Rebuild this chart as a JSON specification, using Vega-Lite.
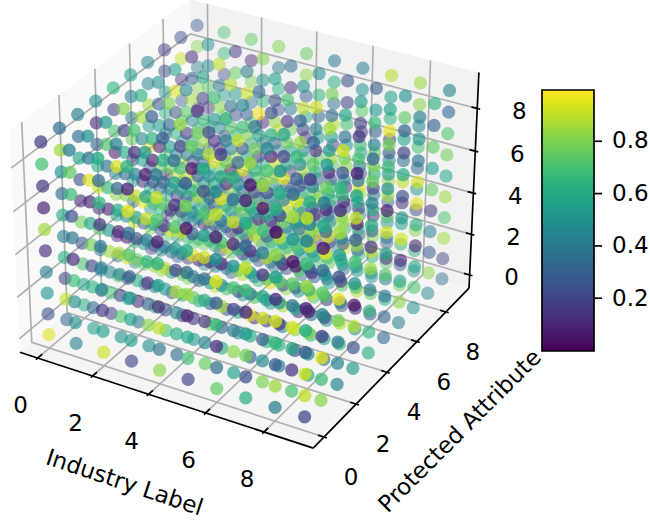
{"$schema":"https://vega.github.io/schema/vega-lite/v6.json","width":650,"height":525,"padding":0,"autosize":"none","background":"white","config":{"view":{"stroke":null},"text":{"font":"DejaVu Sans","fontSize":23,"color":"black"}},
"data":{"values":[
{"k":"pane","i":"l","o":0,"x":-0.656,"y":-0.656,"z":-0.656},{"k":"pane","i":"l","o":1,"x":-0.656,"y":9.656,"z":-0.656},{"k":"pane","i":"l","o":2,"x":-0.656,"y":9.656,"z":9.656},{"k":"pane","i":"l","o":3,"x":-0.656,"y":-0.656,"z":9.656},
{"k":"pane","i":"b","o":0,"x":-0.656,"y":9.656,"z":-0.656},{"k":"pane","i":"b","o":1,"x":9.656,"y":9.656,"z":-0.656},{"k":"pane","i":"b","o":2,"x":9.656,"y":9.656,"z":9.656},{"k":"pane","i":"b","o":3,"x":-0.656,"y":9.656,"z":9.656},
{"k":"pane","i":"f","o":0,"x":-0.656,"y":-0.656,"z":-0.656},{"k":"pane","i":"f","o":1,"x":9.656,"y":-0.656,"z":-0.656},{"k":"pane","i":"f","o":2,"x":9.656,"y":9.656,"z":-0.656},{"k":"pane","i":"f","o":3,"x":-0.656,"y":9.656,"z":-0.656},
{"k":"g","i":"x0","o":0,"x":0,"y":-0.656,"z":-0.656},{"k":"g","i":"x0","o":1,"x":0,"y":9.656,"z":-0.656},{"k":"g","i":"x0","o":2,"x":0,"y":9.656,"z":9.656},
{"k":"g","i":"x2","o":0,"x":2,"y":-0.656,"z":-0.656},{"k":"g","i":"x2","o":1,"x":2,"y":9.656,"z":-0.656},{"k":"g","i":"x2","o":2,"x":2,"y":9.656,"z":9.656},
{"k":"g","i":"x4","o":0,"x":4,"y":-0.656,"z":-0.656},{"k":"g","i":"x4","o":1,"x":4,"y":9.656,"z":-0.656},{"k":"g","i":"x4","o":2,"x":4,"y":9.656,"z":9.656},
{"k":"g","i":"x6","o":0,"x":6,"y":-0.656,"z":-0.656},{"k":"g","i":"x6","o":1,"x":6,"y":9.656,"z":-0.656},{"k":"g","i":"x6","o":2,"x":6,"y":9.656,"z":9.656},
{"k":"g","i":"x8","o":0,"x":8,"y":-0.656,"z":-0.656},{"k":"g","i":"x8","o":1,"x":8,"y":9.656,"z":-0.656},{"k":"g","i":"x8","o":2,"x":8,"y":9.656,"z":9.656},
{"k":"g","i":"y0","o":0,"x":9.656,"y":0,"z":-0.656},{"k":"g","i":"y0","o":1,"x":-0.656,"y":0,"z":-0.656},{"k":"g","i":"y0","o":2,"x":-0.656,"y":0,"z":9.656},
{"k":"g","i":"y2","o":0,"x":9.656,"y":2,"z":-0.656},{"k":"g","i":"y2","o":1,"x":-0.656,"y":2,"z":-0.656},{"k":"g","i":"y2","o":2,"x":-0.656,"y":2,"z":9.656},
{"k":"g","i":"y4","o":0,"x":9.656,"y":4,"z":-0.656},{"k":"g","i":"y4","o":1,"x":-0.656,"y":4,"z":-0.656},{"k":"g","i":"y4","o":2,"x":-0.656,"y":4,"z":9.656},
{"k":"g","i":"y6","o":0,"x":9.656,"y":6,"z":-0.656},{"k":"g","i":"y6","o":1,"x":-0.656,"y":6,"z":-0.656},{"k":"g","i":"y6","o":2,"x":-0.656,"y":6,"z":9.656},
{"k":"g","i":"y8","o":0,"x":9.656,"y":8,"z":-0.656},{"k":"g","i":"y8","o":1,"x":-0.656,"y":8,"z":-0.656},{"k":"g","i":"y8","o":2,"x":-0.656,"y":8,"z":9.656},
{"k":"g","i":"z0","o":0,"x":-0.656,"y":-0.656,"z":0},{"k":"g","i":"z0","o":1,"x":-0.656,"y":9.656,"z":0},{"k":"g","i":"z0","o":2,"x":9.656,"y":9.656,"z":0},
{"k":"g","i":"z2","o":0,"x":-0.656,"y":-0.656,"z":2},{"k":"g","i":"z2","o":1,"x":-0.656,"y":9.656,"z":2},{"k":"g","i":"z2","o":2,"x":9.656,"y":9.656,"z":2},
{"k":"g","i":"z4","o":0,"x":-0.656,"y":-0.656,"z":4},{"k":"g","i":"z4","o":1,"x":-0.656,"y":9.656,"z":4},{"k":"g","i":"z4","o":2,"x":9.656,"y":9.656,"z":4},
{"k":"g","i":"z6","o":0,"x":-0.656,"y":-0.656,"z":6},{"k":"g","i":"z6","o":1,"x":-0.656,"y":9.656,"z":6},{"k":"g","i":"z6","o":2,"x":9.656,"y":9.656,"z":6},
{"k":"g","i":"z8","o":0,"x":-0.656,"y":-0.656,"z":8},{"k":"g","i":"z8","o":1,"x":-0.656,"y":9.656,"z":8},{"k":"g","i":"z8","o":2,"x":9.656,"y":9.656,"z":8},
{"k":"a","i":"x","o":0,"x":-0.656,"y":-0.656,"z":-0.656},{"k":"a","i":"x","o":1,"x":9.656,"y":-0.656,"z":-0.656},
{"k":"a","i":"y","o":0,"x":9.656,"y":-0.656,"z":-0.656},{"k":"a","i":"y","o":1,"x":9.656,"y":9.656,"z":-0.656},
{"k":"a","i":"z","o":0,"x":9.656,"y":9.656,"z":-0.656},{"k":"a","i":"z","o":1,"x":9.656,"y":9.656,"z":9.656},
{"k":"a","i":"tx0","o":0,"x":0,"y":-0.756,"z":-0.656},{"k":"a","i":"tx0","o":1,"x":0,"y":-0.406,"z":-0.656},
{"k":"a","i":"tx2","o":0,"x":2,"y":-0.756,"z":-0.656},{"k":"a","i":"tx2","o":1,"x":2,"y":-0.406,"z":-0.656},
{"k":"a","i":"tx4","o":0,"x":4,"y":-0.756,"z":-0.656},{"k":"a","i":"tx4","o":1,"x":4,"y":-0.406,"z":-0.656},
{"k":"a","i":"tx6","o":0,"x":6,"y":-0.756,"z":-0.656},{"k":"a","i":"tx6","o":1,"x":6,"y":-0.406,"z":-0.656},
{"k":"a","i":"tx8","o":0,"x":8,"y":-0.756,"z":-0.656},{"k":"a","i":"tx8","o":1,"x":8,"y":-0.406,"z":-0.656},
{"k":"a","i":"ty0","o":0,"x":9.456,"y":0,"z":-0.656},{"k":"a","i":"ty0","o":1,"x":9.756,"y":0,"z":-0.656},
{"k":"a","i":"ty2","o":0,"x":9.456,"y":2,"z":-0.656},{"k":"a","i":"ty2","o":1,"x":9.756,"y":2,"z":-0.656},
{"k":"a","i":"ty4","o":0,"x":9.456,"y":4,"z":-0.656},{"k":"a","i":"ty4","o":1,"x":9.756,"y":4,"z":-0.656},
{"k":"a","i":"ty6","o":0,"x":9.456,"y":6,"z":-0.656},{"k":"a","i":"ty6","o":1,"x":9.756,"y":6,"z":-0.656},
{"k":"a","i":"ty8","o":0,"x":9.456,"y":8,"z":-0.656},{"k":"a","i":"ty8","o":1,"x":9.756,"y":8,"z":-0.656},
{"k":"a","i":"tz0","o":0,"x":9.456,"y":9.656,"z":0},{"k":"a","i":"tz0","o":1,"x":9.756,"y":9.656,"z":0},
{"k":"a","i":"tz2","o":0,"x":9.456,"y":9.656,"z":2},{"k":"a","i":"tz2","o":1,"x":9.756,"y":9.656,"z":2},
{"k":"a","i":"tz4","o":0,"x":9.456,"y":9.656,"z":4},{"k":"a","i":"tz4","o":1,"x":9.756,"y":9.656,"z":4},
{"k":"a","i":"tz6","o":0,"x":9.456,"y":9.656,"z":6},{"k":"a","i":"tz6","o":1,"x":9.756,"y":9.656,"z":6},
{"k":"a","i":"tz8","o":0,"x":9.456,"y":9.656,"z":8},{"k":"a","i":"tz8","o":1,"x":9.756,"y":9.656,"z":8},
{"k":"xl","t":"0","x":0,"y":-0.656,"z":-0.656},{"k":"xl","t":"2","x":2,"y":-0.656,"z":-0.656},{"k":"xl","t":"4","x":4,"y":-0.656,"z":-0.656},{"k":"xl","t":"6","x":6,"y":-0.656,"z":-0.656},{"k":"xl","t":"8","x":8,"y":-0.656,"z":-0.656},
{"k":"yl","t":"0","x":9.656,"y":0,"z":-0.656},{"k":"yl","t":"2","x":9.656,"y":2,"z":-0.656},{"k":"yl","t":"4","x":9.656,"y":4,"z":-0.656},{"k":"yl","t":"6","x":9.656,"y":6,"z":-0.656},{"k":"yl","t":"8","x":9.656,"y":8,"z":-0.656},
{"k":"zl","t":"0","x":9.656,"y":9.656,"z":0},{"k":"zl","t":"2","x":9.656,"y":9.656,"z":2},{"k":"zl","t":"4","x":9.656,"y":9.656,"z":4},{"k":"zl","t":"6","x":9.656,"y":9.656,"z":6},{"k":"zl","t":"8","x":9.656,"y":9.656,"z":8},
{"k":"tx","t":"Industry Label","x":3.05,"y":-0.656,"z":-5.46},
{"k":"ty","t":"Protected Attribute","x":9.656,"y":9.47,"z":-7.88},
{"k":"c","cb":0.2},{"k":"c","cb":0.4},{"k":"c","cb":0.6},{"k":"c","cb":0.8},
{"x":0,"y":0,"z":0,"v":0.95},{"x":0,"y":0,"z":1,"v":0.25},{"x":0,"y":0,"z":2,"v":0.5},{"x":0,"y":0,"z":3,"v":0.42},{"x":0,"y":0,"z":4,"v":0.12},{"x":0,"y":0,"z":5,"v":0.85},{"x":0,"y":0,"z":6,"v":0.08},{"x":0,"y":0,"z":7,"v":0.15},{"x":0,"y":0,"z":8,"v":0.7},{"x":0,"y":0,"z":9,"v":0.18},
{"x":0,"y":1,"z":0,"v":0.3},{"x":0,"y":1,"z":1,"v":0.9},{"x":0,"y":1,"z":2,"v":0.2},{"x":0,"y":1,"z":3,"v":0.62},{"x":0,"y":1,"z":4,"v":0.42},{"x":0,"y":1,"z":5,"v":0.6},{"x":0,"y":1,"z":6,"v":0.35},{"x":0,"y":1,"z":7,"v":0.5},{"x":0,"y":1,"z":8,"v":0.85},{"x":0,"y":1,"z":9,"v":0.35},
{"x":0,"y":2,"z":0,"v":0.62},{"x":0,"y":2,"z":1,"v":0.55},{"x":0,"y":2,"z":2,"v":0.7},{"x":0,"y":2,"z":3,"v":0.25},{"x":0,"y":2,"z":4,"v":0.78},{"x":0,"y":2,"z":5,"v":0.12},{"x":0,"y":2,"z":6,"v":0.22},{"x":0,"y":2,"z":7,"v":0.58},{"x":0,"y":2,"z":8,"v":0.35},{"x":0,"y":2,"z":9,"v":0.42},
{"x":0,"y":3,"z":0,"v":0.2},{"x":0,"y":3,"z":1,"v":0.5},{"x":0,"y":3,"z":2,"v":0.4},{"x":0,"y":3,"z":3,"v":0.72},{"x":0,"y":3,"z":4,"v":0.15},{"x":0,"y":3,"z":5,"v":0.92},{"x":0,"y":3,"z":6,"v":0.62},{"x":0,"y":3,"z":7,"v":0.3},{"x":0,"y":3,"z":8,"v":0.12},{"x":0,"y":3,"z":9,"v":0.5},
{"x":0,"y":4,"z":0,"v":0.75},{"x":0,"y":4,"z":1,"v":0.38},{"x":0,"y":4,"z":2,"v":0.12},{"x":0,"y":4,"z":3,"v":0.55},{"x":0,"y":4,"z":4,"v":0.82},{"x":0,"y":4,"z":5,"v":0.45},{"x":0,"y":4,"z":6,"v":0.05},{"x":0,"y":4,"z":7,"v":0.7},{"x":0,"y":4,"z":8,"v":0.2},{"x":0,"y":4,"z":9,"v":0.65},
{"x":0,"y":5,"z":0,"v":0.45},{"x":0,"y":5,"z":1,"v":0.66},{"x":0,"y":5,"z":2,"v":0.9},{"x":0,"y":5,"z":3,"v":0.33},{"x":0,"y":5,"z":4,"v":0.58},{"x":0,"y":5,"z":5,"v":0.18},{"x":0,"y":5,"z":6,"v":0.75},{"x":0,"y":5,"z":7,"v":0.4},{"x":0,"y":5,"z":8,"v":0.42},{"x":0,"y":5,"z":9,"v":0.55},
{"x":0,"y":6,"z":0,"v":0.1},{"x":0,"y":6,"z":1,"v":0.8},{"x":0,"y":6,"z":2,"v":0.47},{"x":0,"y":6,"z":3,"v":0.6},{"x":0,"y":6,"z":4,"v":0.28},{"x":0,"y":6,"z":5,"v":0.95},{"x":0,"y":6,"z":6,"v":0.52},{"x":0,"y":6,"z":7,"v":0.85},{"x":0,"y":6,"z":8,"v":0.42},{"x":0,"y":6,"z":9,"v":0.45},
{"x":0,"y":7,"z":0,"v":0.68},{"x":0,"y":7,"z":1,"v":0.22},{"x":0,"y":7,"z":2,"v":0.56},{"x":0,"y":7,"z":3,"v":0.08},{"x":0,"y":7,"z":4,"v":0.72},{"x":0,"y":7,"z":5,"v":0.36},{"x":0,"y":7,"z":6,"v":0.64},{"x":0,"y":7,"z":7,"v":0.52},{"x":0,"y":7,"z":8,"v":0.2},{"x":0,"y":7,"z":9,"v":0.18},
{"x":0,"y":8,"z":0,"v":0.34},{"x":0,"y":8,"z":1,"v":0.6},{"x":0,"y":8,"z":2,"v":0.15},{"x":0,"y":8,"z":3,"v":0.88},{"x":0,"y":8,"z":4,"v":0.48},{"x":0,"y":8,"z":5,"v":0.7},{"x":0,"y":8,"z":6,"v":0.26},{"x":0,"y":8,"z":7,"v":0.12},{"x":0,"y":8,"z":8,"v":0.9},{"x":0,"y":8,"z":9,"v":0.22},
{"x":0,"y":9,"z":0,"v":0.52},{"x":0,"y":9,"z":1,"v":0.76},{"x":0,"y":9,"z":2,"v":0.3},{"x":0,"y":9,"z":3,"v":0.44},{"x":0,"y":9,"z":4,"v":0.62},{"x":0,"y":9,"z":5,"v":0.16},{"x":0,"y":9,"z":6,"v":0.82},{"x":0,"y":9,"z":7,"v":0.4},{"x":0,"y":9,"z":8,"v":0.82},{"x":0,"y":9,"z":9,"v":0.28},
{"x":1,"y":0,"z":0,"v":0.42},{"x":1,"y":0,"z":1,"v":0.5},{"x":1,"y":0,"z":2,"v":0.47},{"x":1,"y":0,"z":3,"v":0.68},{"x":1,"y":0,"z":4,"v":0.1},{"x":1,"y":0,"z":5,"v":0.38},{"x":1,"y":0,"z":6,"v":0.25},{"x":1,"y":0,"z":7,"v":0.68},{"x":1,"y":0,"z":8,"v":0.75},{"x":1,"y":0,"z":9,"v":0.42},
{"x":1,"y":1,"z":0,"v":0.55},{"x":1,"y":1,"z":1,"v":0.32},{"x":1,"y":1,"z":2,"v":0.62},{"x":1,"y":1,"z":3,"v":0.2},{"x":1,"y":1,"z":4,"v":0.78},{"x":1,"y":1,"z":5,"v":0.58},{"x":1,"y":1,"z":6,"v":0.12},{"x":1,"y":1,"z":7,"v":0.95},{"x":1,"y":1,"z":8,"v":0.4},{"x":1,"y":1,"z":9,"v":0.48},
{"x":1,"y":2,"z":0,"v":0.16},{"x":1,"y":2,"z":1,"v":0.7},{"x":1,"y":2,"z":2,"v":0.44},{"x":1,"y":2,"z":3,"v":0.85},{"x":1,"y":2,"z":4,"v":0.52},{"x":1,"y":2,"z":5,"v":0.1},{"x":1,"y":2,"z":6,"v":0.66},{"x":1,"y":2,"z":7,"v":0.36},{"x":1,"y":2,"z":8,"v":0.72},{"x":1,"y":2,"z":9,"v":0.52},
{"x":1,"y":3,"z":0,"v":0.62},{"x":1,"y":3,"z":1,"v":0.24},{"x":1,"y":3,"z":2,"v":0.92},{"x":1,"y":3,"z":3,"v":0.06},{"x":1,"y":3,"z":4,"v":0.48},{"x":1,"y":3,"z":5,"v":0.8},{"x":1,"y":3,"z":6,"v":0.34},{"x":1,"y":3,"z":7,"v":0.6},{"x":1,"y":3,"z":8,"v":0.18},{"x":1,"y":3,"z":9,"v":0.8},
{"x":1,"y":4,"z":0,"v":0.38},{"x":1,"y":4,"z":1,"v":0.74},{"x":1,"y":4,"z":2,"v":0.5},{"x":1,"y":4,"z":3,"v":0.28},{"x":1,"y":4,"z":4,"v":0.96},{"x":1,"y":4,"z":5,"v":0.14},{"x":1,"y":4,"z":6,"v":0.56},{"x":1,"y":4,"z":7,"v":0.42},{"x":1,"y":4,"z":8,"v":0.85},{"x":1,"y":4,"z":9,"v":0.62},
{"x":1,"y":5,"z":0,"v":0.84},{"x":1,"y":5,"z":1,"v":0.46},{"x":1,"y":5,"z":2,"v":0.2},{"x":1,"y":5,"z":3,"v":0.66},{"x":1,"y":5,"z":4,"v":0.32},{"x":1,"y":5,"z":5,"v":0.76},{"x":1,"y":5,"z":6,"v":0.04},{"x":1,"y":5,"z":7,"v":0.54},{"x":1,"y":5,"z":8,"v":0.3},{"x":1,"y":5,"z":9,"v":0.5},
{"x":1,"y":6,"z":0,"v":0.26},{"x":1,"y":6,"z":1,"v":0.58},{"x":1,"y":6,"z":2,"v":0.72},{"x":1,"y":6,"z":3,"v":0.12},{"x":1,"y":6,"z":4,"v":0.88},{"x":1,"y":6,"z":5,"v":0.4},{"x":1,"y":6,"z":6,"v":0.64},{"x":1,"y":6,"z":7,"v":0.22},{"x":1,"y":6,"z":8,"v":0.94},{"x":1,"y":6,"z":9,"v":0.55},
{"x":1,"y":7,"z":0,"v":0.7},{"x":1,"y":7,"z":1,"v":0.36},{"x":1,"y":7,"z":2,"v":0.5},{"x":1,"y":7,"z":3,"v":0.8},{"x":1,"y":7,"z":4,"v":0.18},{"x":1,"y":7,"z":5,"v":0.6},{"x":1,"y":7,"z":6,"v":0.44},{"x":1,"y":7,"z":7,"v":0.86},{"x":1,"y":7,"z":8,"v":0.28},{"x":1,"y":7,"z":9,"v":0.12},
{"x":1,"y":8,"z":0,"v":0.48},{"x":1,"y":8,"z":1,"v":0.1},{"x":1,"y":8,"z":2,"v":0.82},{"x":1,"y":8,"z":3,"v":0.56},{"x":1,"y":8,"z":4,"v":0.34},{"x":1,"y":8,"z":5,"v":0.68},{"x":1,"y":8,"z":6,"v":0.16},{"x":1,"y":8,"z":7,"v":0.74},{"x":1,"y":8,"z":8,"v":0.46},{"x":1,"y":8,"z":9,"v":0.5},
{"x":1,"y":9,"z":0,"v":0.6},{"x":1,"y":9,"z":1,"v":0.3},{"x":1,"y":9,"z":2,"v":0.9},{"x":1,"y":9,"z":3,"v":0.42},{"x":1,"y":9,"z":4,"v":0.14},{"x":1,"y":9,"z":5,"v":0.78},{"x":1,"y":9,"z":6,"v":0.52},{"x":1,"y":9,"z":7,"v":0.24},{"x":1,"y":9,"z":8,"v":0.66},{"x":1,"y":9,"z":9,"v":0.72},
{"x":2,"y":0,"z":0,"v":0.92},{"x":2,"y":0,"z":1,"v":0.55},{"x":2,"y":0,"z":2,"v":0.15},{"x":2,"y":0,"z":3,"v":0.5},{"x":2,"y":0,"z":4,"v":0.42},{"x":2,"y":0,"z":5,"v":0.38},{"x":2,"y":0,"z":6,"v":0.15},{"x":2,"y":0,"z":7,"v":0.65},{"x":2,"y":0,"z":8,"v":0.35},{"x":2,"y":0,"z":9,"v":0.6},
{"x":2,"y":1,"z":0,"v":0.5},{"x":2,"y":1,"z":1,"v":0.72},{"x":2,"y":1,"z":2,"v":0.24},{"x":2,"y":1,"z":3,"v":0.46},{"x":2,"y":1,"z":4,"v":0.86},{"x":2,"y":1,"z":5,"v":0.08},{"x":2,"y":1,"z":6,"v":0.6},{"x":2,"y":1,"z":7,"v":0.3},{"x":2,"y":1,"z":8,"v":0.94},{"x":2,"y":1,"z":9,"v":0.42},
{"x":2,"y":2,"z":0,"v":0.36},{"x":2,"y":2,"z":1,"v":0.1},{"x":2,"y":2,"z":2,"v":0.64},{"x":2,"y":2,"z":3,"v":0.78},{"x":2,"y":2,"z":4,"v":0.2},{"x":2,"y":2,"z":5,"v":0.54},{"x":2,"y":2,"z":6,"v":0.9},{"x":2,"y":2,"z":7,"v":0.44},{"x":2,"y":2,"z":8,"v":0.14},{"x":2,"y":2,"z":9,"v":0.7},
{"x":2,"y":3,"z":0,"v":0.66},{"x":2,"y":3,"z":1,"v":0.42},{"x":2,"y":3,"z":2,"v":0.84},{"x":2,"y":3,"z":3,"v":0.32},{"x":2,"y":3,"z":4,"v":0.58},{"x":2,"y":3,"z":5,"v":0.7},{"x":2,"y":3,"z":6,"v":0.26},{"x":2,"y":3,"z":7,"v":0.06},{"x":2,"y":3,"z":8,"v":0.62},{"x":2,"y":3,"z":9,"v":0.28},
{"x":2,"y":4,"z":0,"v":0.22},{"x":2,"y":4,"z":1,"v":0.6},{"x":2,"y":4,"z":2,"v":0.38},{"x":2,"y":4,"z":3,"v":0.96},{"x":2,"y":4,"z":4,"v":0.12},{"x":2,"y":4,"z":5,"v":0.48},{"x":2,"y":4,"z":6,"v":0.76},{"x":2,"y":4,"z":7,"v":0.56},{"x":2,"y":4,"z":8,"v":0.34},{"x":2,"y":4,"z":9,"v":0.8},
{"x":2,"y":5,"z":0,"v":0.8},{"x":2,"y":5,"z":1,"v":0.18},{"x":2,"y":5,"z":2,"v":0.68},{"x":2,"y":5,"z":3,"v":0.5},{"x":2,"y":5,"z":4,"v":0.28},{"x":2,"y":5,"z":5,"v":0.9},{"x":2,"y":5,"z":6,"v":0.4},{"x":2,"y":5,"z":7,"v":0.16},{"x":2,"y":5,"z":8,"v":0.74},{"x":2,"y":5,"z":9,"v":0.46},
{"x":2,"y":6,"z":0,"v":0.44},{"x":2,"y":6,"z":1,"v":0.78},{"x":2,"y":6,"z":2,"v":0.04},{"x":2,"y":6,"z":3,"v":0.62},{"x":2,"y":6,"z":4,"v":0.52},{"x":2,"y":6,"z":5,"v":0.3},{"x":2,"y":6,"z":6,"v":0.84},{"x":2,"y":6,"z":7,"v":0.66},{"x":2,"y":6,"z":8,"v":0.2},{"x":2,"y":6,"z":9,"v":0.58},
{"x":2,"y":7,"z":0,"v":0.14},{"x":2,"y":7,"z":1,"v":0.56},{"x":2,"y":7,"z":2,"v":0.92},{"x":2,"y":7,"z":3,"v":0.36},{"x":2,"y":7,"z":4,"v":0.7},{"x":2,"y":7,"z":5,"v":0.1},{"x":2,"y":7,"z":6,"v":0.48},{"x":2,"y":7,"z":7,"v":0.82},{"x":2,"y":7,"z":8,"v":0.38},{"x":2,"y":7,"z":9,"v":0.9},
{"x":2,"y":8,"z":0,"v":0.74},{"x":2,"y":8,"z":1,"v":0.28},{"x":2,"y":8,"z":2,"v":0.46},{"x":2,"y":8,"z":3,"v":0.12},{"x":2,"y":8,"z":4,"v":0.86},{"x":2,"y":8,"z":5,"v":0.6},{"x":2,"y":8,"z":6,"v":0.22},{"x":2,"y":8,"z":7,"v":0.54},{"x":2,"y":8,"z":8,"v":0.76},{"x":2,"y":8,"z":9,"v":0.15},
{"x":2,"y":9,"z":0,"v":0.32},{"x":2,"y":9,"z":1,"v":0.88},{"x":2,"y":9,"z":2,"v":0.6},{"x":2,"y":9,"z":3,"v":0.2},{"x":2,"y":9,"z":4,"v":0.5},{"x":2,"y":9,"z":5,"v":0.72},{"x":2,"y":9,"z":6,"v":0.34},{"x":2,"y":9,"z":7,"v":0.8},{"x":2,"y":9,"z":8,"v":0.1},{"x":2,"y":9,"z":9,"v":0.75},
{"x":3,"y":0,"z":0,"v":0.2},{"x":3,"y":0,"z":1,"v":0.55},{"x":3,"y":0,"z":2,"v":0.58},{"x":3,"y":0,"z":3,"v":0.5},{"x":3,"y":0,"z":4,"v":0.3},{"x":3,"y":0,"z":5,"v":0.72},{"x":3,"y":0,"z":6,"v":0.35},{"x":3,"y":0,"z":7,"v":0.95},{"x":3,"y":0,"z":8,"v":0.1},{"x":3,"y":0,"z":9,"v":0.65},
{"x":3,"y":1,"z":0,"v":0.48},{"x":3,"y":1,"z":1,"v":0.82},{"x":3,"y":1,"z":2,"v":0.3},{"x":3,"y":1,"z":3,"v":0.14},{"x":3,"y":1,"z":4,"v":0.64},{"x":3,"y":1,"z":5,"v":0.42},{"x":3,"y":1,"z":6,"v":0.9},{"x":3,"y":1,"z":7,"v":0.56},{"x":3,"y":1,"z":8,"v":0.08},{"x":3,"y":1,"z":9,"v":0.52},
{"x":3,"y":2,"z":0,"v":0.7},{"x":3,"y":2,"z":1,"v":0.26},{"x":3,"y":2,"z":2,"v":0.52},{"x":3,"y":2,"z":3,"v":0.88},{"x":3,"y":2,"z":4,"v":0.4},{"x":3,"y":2,"z":5,"v":0.16},{"x":3,"y":2,"z":6,"v":0.74},{"x":3,"y":2,"z":7,"v":0.34},{"x":3,"y":2,"z":8,"v":0.6},{"x":3,"y":2,"z":9,"v":0.3},
{"x":3,"y":3,"z":0,"v":0.12},{"x":3,"y":3,"z":1,"v":0.62},{"x":3,"y":3,"z":2,"v":0.76},{"x":3,"y":3,"z":3,"v":0.44},{"x":3,"y":3,"z":4,"v":0.92},{"x":3,"y":3,"z":5,"v":0.24},{"x":3,"y":3,"z":6,"v":0.56},{"x":3,"y":3,"z":7,"v":0.68},{"x":3,"y":3,"z":8,"v":0.18},{"x":3,"y":3,"z":9,"v":0.84},
{"x":3,"y":4,"z":0,"v":0.58},{"x":3,"y":4,"z":1,"v":0.36},{"x":3,"y":4,"z":2,"v":0.08},{"x":3,"y":4,"z":3,"v":0.7},{"x":3,"y":4,"z":4,"v":0.5},{"x":3,"y":4,"z":5,"v":0.86},{"x":3,"y":4,"z":6,"v":0.28},{"x":3,"y":4,"z":7,"v":0.44},{"x":3,"y":4,"z":8,"v":0.78},{"x":3,"y":4,"z":9,"v":0.12},
{"x":3,"y":5,"z":0,"v":0.9},{"x":3,"y":5,"z":1,"v":0.46},{"x":3,"y":5,"z":2,"v":0.66},{"x":3,"y":5,"z":3,"v":0.22},{"x":3,"y":5,"z":4,"v":0.34},{"x":3,"y":5,"z":5,"v":0.6},{"x":3,"y":5,"z":6,"v":0.96},{"x":3,"y":5,"z":7,"v":0.14},{"x":3,"y":5,"z":8,"v":0.52},{"x":3,"y":5,"z":9,"v":0.68},
{"x":3,"y":6,"z":0,"v":0.3},{"x":3,"y":6,"z":1,"v":0.76},{"x":3,"y":6,"z":2,"v":0.16},{"x":3,"y":6,"z":3,"v":0.54},{"x":3,"y":6,"z":4,"v":0.82},{"x":3,"y":6,"z":5,"v":0.06},{"x":3,"y":6,"z":6,"v":0.42},{"x":3,"y":6,"z":7,"v":0.72},{"x":3,"y":6,"z":8,"v":0.36},{"x":3,"y":6,"z":9,"v":0.88},
{"x":3,"y":7,"z":0,"v":0.64},{"x":3,"y":7,"z":1,"v":0.1},{"x":3,"y":7,"z":2,"v":0.48},{"x":3,"y":7,"z":3,"v":0.84},{"x":3,"y":7,"z":4,"v":0.26},{"x":3,"y":7,"z":5,"v":0.58},{"x":3,"y":7,"z":6,"v":0.78},{"x":3,"y":7,"z":7,"v":0.32},{"x":3,"y":7,"z":8,"v":0.92},{"x":3,"y":7,"z":9,"v":0.4},
{"x":3,"y":8,"z":0,"v":0.42},{"x":3,"y":8,"z":1,"v":0.7},{"x":3,"y":8,"z":2,"v":0.94},{"x":3,"y":8,"z":3,"v":0.2},{"x":3,"y":8,"z":4,"v":0.6},{"x":3,"y":8,"z":5,"v":0.38},{"x":3,"y":8,"z":6,"v":0.1},{"x":3,"y":8,"z":7,"v":0.66},{"x":3,"y":8,"z":8,"v":0.5},{"x":3,"y":8,"z":9,"v":0.8},
{"x":3,"y":9,"z":0,"v":0.56},{"x":3,"y":9,"z":1,"v":0.18},{"x":3,"y":9,"z":2,"v":0.34},{"x":3,"y":9,"z":3,"v":0.74},{"x":3,"y":9,"z":4,"v":0.46},{"x":3,"y":9,"z":5,"v":0.9},{"x":3,"y":9,"z":6,"v":0.24},{"x":3,"y":9,"z":7,"v":0.62},{"x":3,"y":9,"z":8,"v":0.4},{"x":3,"y":9,"z":9,"v":0.8},
{"x":4,"y":0,"z":0,"v":0.82},{"x":4,"y":0,"z":1,"v":0.38},{"x":4,"y":0,"z":2,"v":0.9},{"x":4,"y":0,"z":3,"v":0.12},{"x":4,"y":0,"z":4,"v":0.55},{"x":4,"y":0,"z":5,"v":0.62},{"x":4,"y":0,"z":6,"v":0.08},{"x":4,"y":0,"z":7,"v":0.72},{"x":4,"y":0,"z":8,"v":0.9},{"x":4,"y":0,"z":9,"v":0.4},
{"x":4,"y":1,"z":0,"v":0.34},{"x":4,"y":1,"z":1,"v":0.6},{"x":4,"y":1,"z":2,"v":0.46},{"x":4,"y":1,"z":3,"v":0.86},{"x":4,"y":1,"z":4,"v":0.2},{"x":4,"y":1,"z":5,"v":0.52},{"x":4,"y":1,"z":6,"v":0.7},{"x":4,"y":1,"z":7,"v":0.14},{"x":4,"y":1,"z":8,"v":0.56},{"x":4,"y":1,"z":9,"v":0.36},
{"x":4,"y":2,"z":0,"v":0.54},{"x":4,"y":2,"z":1,"v":0.16},{"x":4,"y":2,"z":2,"v":0.74},{"x":4,"y":2,"z":3,"v":0.4},{"x":4,"y":2,"z":4,"v":0.94},{"x":4,"y":2,"z":5,"v":0.28},{"x":4,"y":2,"z":6,"v":0.48},{"x":4,"y":2,"z":7,"v":0.64},{"x":4,"y":2,"z":8,"v":0.06},{"x":4,"y":2,"z":9,"v":0.76},
{"x":4,"y":3,"z":0,"v":0.78},{"x":4,"y":3,"z":1,"v":0.32},{"x":4,"y":3,"z":2,"v":0.58},{"x":4,"y":3,"z":3,"v":0.1},{"x":4,"y":3,"z":4,"v":0.66},{"x":4,"y":3,"z":5,"v":0.84},{"x":4,"y":3,"z":6,"v":0.36},{"x":4,"y":3,"z":7,"v":0.5},{"x":4,"y":3,"z":8,"v":0.88},{"x":4,"y":3,"z":9,"v":0.22},
{"x":4,"y":4,"z":0,"v":0.24},{"x":4,"y":4,"z":1,"v":0.7},{"x":4,"y":4,"z":2,"v":0.44},{"x":4,"y":4,"z":3,"v":0.9},{"x":4,"y":4,"z":4,"v":0.3},{"x":4,"y":4,"z":5,"v":0.6},{"x":4,"y":4,"z":6,"v":0.12},{"x":4,"y":4,"z":7,"v":0.8},{"x":4,"y":4,"z":8,"v":0.42},{"x":4,"y":4,"z":9,"v":0.62},
{"x":4,"y":5,"z":0,"v":0.5},{"x":4,"y":5,"z":1,"v":0.88},{"x":4,"y":5,"z":2,"v":0.18},{"x":4,"y":5,"z":3,"v":0.56},{"x":4,"y":5,"z":4,"v":0.76},{"x":4,"y":5,"z":5,"v":0.38},{"x":4,"y":5,"z":6,"v":0.94},{"x":4,"y":5,"z":7,"v":0.26},{"x":4,"y":5,"z":8,"v":0.68},{"x":4,"y":5,"z":9,"v":0.44},
{"x":4,"y":6,"z":0,"v":0.66},{"x":4,"y":6,"z":1,"v":0.28},{"x":4,"y":6,"z":2,"v":0.82},{"x":4,"y":6,"z":3,"v":0.04},{"x":4,"y":6,"z":4,"v":0.46},{"x":4,"y":6,"z":5,"v":0.72},{"x":4,"y":6,"z":6,"v":0.2},{"x":4,"y":6,"z":7,"v":0.58},{"x":4,"y":6,"z":8,"v":0.98},{"x":4,"y":6,"z":9,"v":0.34},
{"x":4,"y":7,"z":0,"v":0.4},{"x":4,"y":7,"z":1,"v":0.62},{"x":4,"y":7,"z":2,"v":0.12},{"x":4,"y":7,"z":3,"v":0.74},{"x":4,"y":7,"z":4,"v":0.52},{"x":4,"y":7,"z":5,"v":0.92},{"x":4,"y":7,"z":6,"v":0.32},{"x":4,"y":7,"z":7,"v":0.84},{"x":4,"y":7,"z":8,"v":0.24},{"x":4,"y":7,"z":9,"v":0.55},
{"x":4,"y":8,"z":0,"v":0.86},{"x":4,"y":8,"z":1,"v":0.48},{"x":4,"y":8,"z":2,"v":0.68},{"x":4,"y":8,"z":3,"v":0.3},{"x":4,"y":8,"z":4,"v":0.16},{"x":4,"y":8,"z":5,"v":0.56},{"x":4,"y":8,"z":6,"v":0.78},{"x":4,"y":8,"z":7,"v":0.42},{"x":4,"y":8,"z":8,"v":0.14},{"x":4,"y":8,"z":9,"v":0.35},
{"x":4,"y":9,"z":0,"v":0.22},{"x":4,"y":9,"z":1,"v":0.54},{"x":4,"y":9,"z":2,"v":0.8},{"x":4,"y":9,"z":3,"v":0.38},{"x":4,"y":9,"z":4,"v":0.7},{"x":4,"y":9,"z":5,"v":0.1},{"x":4,"y":9,"z":6,"v":0.6},{"x":4,"y":9,"z":7,"v":0.28},{"x":4,"y":9,"z":8,"v":0.82},{"x":4,"y":9,"z":9,"v":0.75},
{"x":5,"y":0,"z":0,"v":0.2},{"x":5,"y":0,"z":1,"v":0.7},{"x":5,"y":0,"z":2,"v":0.6},{"x":5,"y":0,"z":3,"v":0.1},{"x":5,"y":0,"z":4,"v":0.85},{"x":5,"y":0,"z":5,"v":0.35},{"x":5,"y":0,"z":6,"v":0.6},{"x":5,"y":0,"z":7,"v":0.05},{"x":5,"y":0,"z":8,"v":0.78},{"x":5,"y":0,"z":9,"v":0.3},
{"x":5,"y":1,"z":0,"v":0.76},{"x":5,"y":1,"z":1,"v":0.44},{"x":5,"y":1,"z":2,"v":0.14},{"x":5,"y":1,"z":3,"v":0.62},{"x":5,"y":1,"z":4,"v":0.36},{"x":5,"y":1,"z":5,"v":0.92},{"x":5,"y":1,"z":6,"v":0.52},{"x":5,"y":1,"z":7,"v":0.7},{"x":5,"y":1,"z":8,"v":0.24},{"x":5,"y":1,"z":9,"v":0.6},
{"x":5,"y":2,"z":0,"v":0.62},{"x":5,"y":2,"z":1,"v":0.3},{"x":5,"y":2,"z":2,"v":0.86},{"x":5,"y":2,"z":3,"v":0.48},{"x":5,"y":2,"z":4,"v":0.08},{"x":5,"y":2,"z":5,"v":0.68},{"x":5,"y":2,"z":6,"v":0.4},{"x":5,"y":2,"z":7,"v":0.96},{"x":5,"y":2,"z":8,"v":0.56},{"x":5,"y":2,"z":9,"v":0.18},
{"x":5,"y":3,"z":0,"v":0.42},{"x":5,"y":3,"z":1,"v":0.58},{"x":5,"y":3,"z":2,"v":0.22},{"x":5,"y":3,"z":3,"v":0.8},{"x":5,"y":3,"z":4,"v":0.64},{"x":5,"y":3,"z":5,"v":0.12},{"x":5,"y":3,"z":6,"v":0.74},{"x":5,"y":3,"z":7,"v":0.46},{"x":5,"y":3,"z":8,"v":0.34},{"x":5,"y":3,"z":9,"v":0.9},
{"x":5,"y":4,"z":0,"v":0.1},{"x":5,"y":4,"z":1,"v":0.72},{"x":5,"y":4,"z":2,"v":0.5},{"x":5,"y":4,"z":3,"v":0.32},{"x":5,"y":4,"z":4,"v":0.88},{"x":5,"y":4,"z":5,"v":0.54},{"x":5,"y":4,"z":6,"v":0.2},{"x":5,"y":4,"z":7,"v":0.66},{"x":5,"y":4,"z":8,"v":0.78},{"x":5,"y":4,"z":9,"v":0.38},
{"x":5,"y":5,"z":0,"v":0.56},{"x":5,"y":5,"z":1,"v":0.94},{"x":5,"y":5,"z":2,"v":0.36},{"x":5,"y":5,"z":3,"v":0.7},{"x":5,"y":5,"z":4,"v":0.16},{"x":5,"y":5,"z":5,"v":0.44},{"x":5,"y":5,"z":6,"v":0.84},{"x":5,"y":5,"z":7,"v":0.06},{"x":5,"y":5,"z":8,"v":0.6},{"x":5,"y":5,"z":9,"v":0.26},
{"x":5,"y":6,"z":0,"v":0.82},{"x":5,"y":6,"z":1,"v":0.24},{"x":5,"y":6,"z":2,"v":0.64},{"x":5,"y":6,"z":3,"v":0.42},{"x":5,"y":6,"z":4,"v":0.98},{"x":5,"y":6,"z":5,"v":0.3},{"x":5,"y":6,"z":6,"v":0.58},{"x":5,"y":6,"z":7,"v":0.76},{"x":5,"y":6,"z":8,"v":0.14},{"x":5,"y":6,"z":9,"v":0.7},
{"x":5,"y":7,"z":0,"v":0.34},{"x":5,"y":7,"z":1,"v":0.52},{"x":5,"y":7,"z":2,"v":0.78},{"x":5,"y":7,"z":3,"v":0.18},{"x":5,"y":7,"z":4,"v":0.6},{"x":5,"y":7,"z":5,"v":0.86},{"x":5,"y":7,"z":6,"v":0.46},{"x":5,"y":7,"z":7,"v":0.22},{"x":5,"y":7,"z":8,"v":0.9},{"x":5,"y":7,"z":9,"v":0.5},
{"x":5,"y":8,"z":0,"v":0.68},{"x":5,"y":8,"z":1,"v":0.12},{"x":5,"y":8,"z":2,"v":0.4},{"x":5,"y":8,"z":3,"v":0.92},{"x":5,"y":8,"z":4,"v":0.28},{"x":5,"y":8,"z":5,"v":0.74},{"x":5,"y":8,"z":6,"v":0.54},{"x":5,"y":8,"z":7,"v":0.32},{"x":5,"y":8,"z":8,"v":0.66},{"x":5,"y":8,"z":9,"v":0.48},
{"x":5,"y":9,"z":0,"v":0.46},{"x":5,"y":9,"z":1,"v":0.8},{"x":5,"y":9,"z":2,"v":0.26},{"x":5,"y":9,"z":3,"v":0.58},{"x":5,"y":9,"z":4,"v":0.72},{"x":5,"y":9,"z":5,"v":0.16},{"x":5,"y":9,"z":6,"v":0.88},{"x":5,"y":9,"z":7,"v":0.36},{"x":5,"y":9,"z":8,"v":0.62},{"x":5,"y":9,"z":9,"v":0.38},
{"x":6,"y":0,"z":0,"v":0.75},{"x":6,"y":0,"z":1,"v":0.35},{"x":6,"y":0,"z":2,"v":0.12},{"x":6,"y":0,"z":3,"v":0.65},{"x":6,"y":0,"z":4,"v":0.3},{"x":6,"y":0,"z":5,"v":0.95},{"x":6,"y":0,"z":6,"v":0.5},{"x":6,"y":0,"z":7,"v":0.08},{"x":6,"y":0,"z":8,"v":0.88},{"x":6,"y":0,"z":9,"v":0.45},
{"x":6,"y":1,"z":0,"v":0.56},{"x":6,"y":1,"z":1,"v":0.82},{"x":6,"y":1,"z":2,"v":0.42},{"x":6,"y":1,"z":3,"v":0.2},{"x":6,"y":1,"z":4,"v":0.7},{"x":6,"y":1,"z":5,"v":0.5},{"x":6,"y":1,"z":6,"v":0.1},{"x":6,"y":1,"z":7,"v":0.9},{"x":6,"y":1,"z":8,"v":0.36},{"x":6,"y":1,"z":9,"v":0.64},
{"x":6,"y":2,"z":0,"v":0.28},{"x":6,"y":2,"z":1,"v":0.6},{"x":6,"y":2,"z":2,"v":0.94},{"x":6,"y":2,"z":3,"v":0.38},{"x":6,"y":2,"z":4,"v":0.54},{"x":6,"y":2,"z":5,"v":0.14},{"x":6,"y":2,"z":6,"v":0.78},{"x":6,"y":2,"z":7,"v":0.62},{"x":6,"y":2,"z":8,"v":0.04},{"x":6,"y":2,"z":9,"v":0.84},
{"x":6,"y":3,"z":0,"v":0.66},{"x":6,"y":3,"z":1,"v":0.16},{"x":6,"y":3,"z":2,"v":0.48},{"x":6,"y":3,"z":3,"v":0.74},{"x":6,"y":3,"z":4,"v":0.88},{"x":6,"y":3,"z":5,"v":0.32},{"x":6,"y":3,"z":6,"v":0.58},{"x":6,"y":3,"z":7,"v":0.24},{"x":6,"y":3,"z":8,"v":0.7},{"x":6,"y":3,"z":9,"v":0.44},
{"x":6,"y":4,"z":0,"v":0.44},{"x":6,"y":4,"z":1,"v":0.86},{"x":6,"y":4,"z":2,"v":0.26},{"x":6,"y":4,"z":3,"v":0.08},{"x":6,"y":4,"z":4,"v":0.6},{"x":6,"y":4,"z":5,"v":0.8},{"x":6,"y":4,"z":6,"v":0.4},{"x":6,"y":4,"z":7,"v":0.96},{"x":6,"y":4,"z":8,"v":0.18},{"x":6,"y":4,"z":9,"v":0.56},
{"x":6,"y":5,"z":0,"v":0.12},{"x":6,"y":5,"z":1,"v":0.5},{"x":6,"y":5,"z":2,"v":0.72},{"x":6,"y":5,"z":3,"v":0.58},{"x":6,"y":5,"z":4,"v":0.34},{"x":6,"y":5,"z":5,"v":0.68},{"x":6,"y":5,"z":6,"v":0.22},{"x":6,"y":5,"z":7,"v":0.46},{"x":6,"y":5,"z":8,"v":0.84},{"x":6,"y":5,"z":9,"v":0.3},
{"x":6,"y":6,"z":0,"v":0.7},{"x":6,"y":6,"z":1,"v":0.32},{"x":6,"y":6,"z":2,"v":0.54},{"x":6,"y":6,"z":3,"v":0.9},{"x":6,"y":6,"z":4,"v":0.06},{"x":6,"y":6,"z":5,"v":0.76},{"x":6,"y":6,"z":6,"v":0.62},{"x":6,"y":6,"z":7,"v":0.14},{"x":6,"y":6,"z":8,"v":0.42},{"x":6,"y":6,"z":9,"v":0.92},
{"x":6,"y":7,"z":0,"v":0.52},{"x":6,"y":7,"z":1,"v":0.76},{"x":6,"y":7,"z":2,"v":0.18},{"x":6,"y":7,"z":3,"v":0.44},{"x":6,"y":7,"z":4,"v":0.66},{"x":6,"y":7,"z":5,"v":0.28},{"x":6,"y":7,"z":6,"v":0.86},{"x":6,"y":7,"z":7,"v":0.56},{"x":6,"y":7,"z":8,"v":0.34},{"x":6,"y":7,"z":9,"v":0.78},
{"x":6,"y":8,"z":0,"v":0.36},{"x":6,"y":8,"z":1,"v":0.94},{"x":6,"y":8,"z":2,"v":0.64},{"x":6,"y":8,"z":3,"v":0.24},{"x":6,"y":8,"z":4,"v":0.1},{"x":6,"y":8,"z":5,"v":0.82},{"x":6,"y":8,"z":6,"v":0.5},{"x":6,"y":8,"z":7,"v":0.7},{"x":6,"y":8,"z":8,"v":0.2},{"x":6,"y":8,"z":9,"v":0.25},
{"x":6,"y":9,"z":0,"v":0.6},{"x":6,"y":9,"z":1,"v":0.2},{"x":6,"y":9,"z":2,"v":0.46},{"x":6,"y":9,"z":3,"v":0.84},{"x":6,"y":9,"z":4,"v":0.3},{"x":6,"y":9,"z":5,"v":0.56},{"x":6,"y":9,"z":6,"v":0.12},{"x":6,"y":9,"z":7,"v":0.74},{"x":6,"y":9,"z":8,"v":0.5},{"x":6,"y":9,"z":9,"v":0.42},
{"x":7,"y":0,"z":0,"v":0.62},{"x":7,"y":0,"z":1,"v":0.25},{"x":7,"y":0,"z":2,"v":0.78},{"x":7,"y":0,"z":3,"v":0.55},{"x":7,"y":0,"z":4,"v":0.1},{"x":7,"y":0,"z":5,"v":0.68},{"x":7,"y":0,"z":6,"v":0.9},{"x":7,"y":0,"z":7,"v":0.32},{"x":7,"y":0,"z":8,"v":0.6},{"x":7,"y":0,"z":9,"v":0.12},
{"x":7,"y":1,"z":0,"v":0.8},{"x":7,"y":1,"z":1,"v":0.48},{"x":7,"y":1,"z":2,"v":0.3},{"x":7,"y":1,"z":3,"v":0.92},{"x":7,"y":1,"z":4,"v":0.58},{"x":7,"y":1,"z":5,"v":0.16},{"x":7,"y":1,"z":6,"v":0.42},{"x":7,"y":1,"z":7,"v":0.7},{"x":7,"y":1,"z":8,"v":0.06},{"x":7,"y":1,"z":9,"v":0.84},
{"x":7,"y":2,"z":0,"v":0.4},{"x":7,"y":2,"z":1,"v":0.66},{"x":7,"y":2,"z":2,"v":0.14},{"x":7,"y":2,"z":3,"v":0.52},{"x":7,"y":2,"z":4,"v":0.76},{"x":7,"y":2,"z":5,"v":0.34},{"x":7,"y":2,"z":6,"v":0.88},{"x":7,"y":2,"z":7,"v":0.22},{"x":7,"y":2,"z":8,"v":0.62},{"x":7,"y":2,"z":9,"v":0.5},
{"x":7,"y":3,"z":0,"v":0.2},{"x":7,"y":3,"z":1,"v":0.84},{"x":7,"y":3,"z":2,"v":0.6},{"x":7,"y":3,"z":3,"v":0.36},{"x":7,"y":3,"z":4,"v":0.04},{"x":7,"y":3,"z":5,"v":0.72},{"x":7,"y":3,"z":6,"v":0.5},{"x":7,"y":3,"z":7,"v":0.94},{"x":7,"y":3,"z":8,"v":0.28},{"x":7,"y":3,"z":9,"v":0.66},
{"x":7,"y":4,"z":0,"v":0.68},{"x":7,"y":4,"z":1,"v":0.38},{"x":7,"y":4,"z":2,"v":0.9},{"x":7,"y":4,"z":3,"v":0.12},{"x":7,"y":4,"z":4,"v":0.56},{"x":7,"y":4,"z":5,"v":0.8},{"x":7,"y":4,"z":6,"v":0.26},{"x":7,"y":4,"z":7,"v":0.46},{"x":7,"y":4,"z":8,"v":0.74},{"x":7,"y":4,"z":9,"v":0.32},
{"x":7,"y":5,"z":0,"v":0.5},{"x":7,"y":5,"z":1,"v":0.18},{"x":7,"y":5,"z":2,"v":0.44},{"x":7,"y":5,"z":3,"v":0.7},{"x":7,"y":5,"z":4,"v":0.96},{"x":7,"y":5,"z":5,"v":0.4},{"x":7,"y":5,"z":6,"v":0.62},{"x":7,"y":5,"z":7,"v":0.1},{"x":7,"y":5,"z":8,"v":0.54},{"x":7,"y":5,"z":9,"v":0.86},
{"x":7,"y":6,"z":0,"v":0.3},{"x":7,"y":6,"z":1,"v":0.74},{"x":7,"y":6,"z":2,"v":0.56},{"x":7,"y":6,"z":3,"v":0.24},{"x":7,"y":6,"z":4,"v":0.86},{"x":7,"y":6,"z":5,"v":0.08},{"x":7,"y":6,"z":6,"v":0.48},{"x":7,"y":6,"z":7,"v":0.78},{"x":7,"y":6,"z":8,"v":0.36},{"x":7,"y":6,"z":9,"v":0.6},
{"x":7,"y":7,"z":0,"v":0.88},{"x":7,"y":7,"z":1,"v":0.52},{"x":7,"y":7,"z":2,"v":0.32},{"x":7,"y":7,"z":3,"v":0.64},{"x":7,"y":7,"z":4,"v":0.16},{"x":7,"y":7,"z":5,"v":0.92},{"x":7,"y":7,"z":6,"v":0.42},{"x":7,"y":7,"z":7,"v":0.68},{"x":7,"y":7,"z":8,"v":0.2},{"x":7,"y":7,"z":9,"v":0.54},
{"x":7,"y":8,"z":0,"v":0.46},{"x":7,"y":8,"z":1,"v":0.62},{"x":7,"y":8,"z":2,"v":0.82},{"x":7,"y":8,"z":3,"v":0.14},{"x":7,"y":8,"z":4,"v":0.38},{"x":7,"y":8,"z":5,"v":0.58},{"x":7,"y":8,"z":6,"v":0.76},{"x":7,"y":8,"z":7,"v":0.3},{"x":7,"y":8,"z":8,"v":0.52},{"x":7,"y":8,"z":9,"v":0.28},
{"x":7,"y":9,"z":0,"v":0.72},{"x":7,"y":9,"z":1,"v":0.26},{"x":7,"y":9,"z":2,"v":0.5},{"x":7,"y":9,"z":3,"v":0.34},{"x":7,"y":9,"z":4,"v":0.84},{"x":7,"y":9,"z":5,"v":0.44},{"x":7,"y":9,"z":6,"v":0.18},{"x":7,"y":9,"z":7,"v":0.64},{"x":7,"y":9,"z":8,"v":0.56},{"x":7,"y":9,"z":9,"v":0.88},
{"x":8,"y":0,"z":0,"v":0.42},{"x":8,"y":0,"z":1,"v":0.85},{"x":8,"y":0,"z":2,"v":0.3},{"x":8,"y":0,"z":3,"v":0.65},{"x":8,"y":0,"z":4,"v":0.92},{"x":8,"y":0,"z":5,"v":0.15},{"x":8,"y":0,"z":6,"v":0.55},{"x":8,"y":0,"z":7,"v":0.82},{"x":8,"y":0,"z":8,"v":0.04},{"x":8,"y":0,"z":9,"v":0.62},
{"x":8,"y":1,"z":0,"v":0.7},{"x":8,"y":1,"z":1,"v":0.14},{"x":8,"y":1,"z":2,"v":0.58},{"x":8,"y":1,"z":3,"v":0.94},{"x":8,"y":1,"z":4,"v":0.4},{"x":8,"y":1,"z":5,"v":0.74},{"x":8,"y":1,"z":6,"v":0.06},{"x":8,"y":1,"z":7,"v":0.52},{"x":8,"y":1,"z":8,"v":0.86},{"x":8,"y":1,"z":9,"v":0.36},
{"x":8,"y":2,"z":0,"v":0.56},{"x":8,"y":2,"z":1,"v":0.46},{"x":8,"y":2,"z":2,"v":0.8},{"x":8,"y":2,"z":3,"v":0.08},{"x":8,"y":2,"z":4,"v":0.66},{"x":8,"y":2,"z":5,"v":0.28},{"x":8,"y":2,"z":6,"v":0.9},{"x":8,"y":2,"z":7,"v":0.42},{"x":8,"y":2,"z":8,"v":0.6},{"x":8,"y":2,"z":9,"v":0.18},
{"x":8,"y":3,"z":0,"v":0.34},{"x":8,"y":3,"z":1,"v":0.62},{"x":8,"y":3,"z":2,"v":0.22},{"x":8,"y":3,"z":3,"v":0.72},{"x":8,"y":3,"z":4,"v":0.5},{"x":8,"y":3,"z":5,"v":0.96},{"x":8,"y":3,"z":6,"v":0.32},{"x":8,"y":3,"z":7,"v":0.1},{"x":8,"y":3,"z":8,"v":0.76},{"x":8,"y":3,"z":9,"v":0.54},
{"x":8,"y":4,"z":0,"v":0.66},{"x":8,"y":4,"z":1,"v":0.88},{"x":8,"y":4,"z":2,"v":0.38},{"x":8,"y":4,"z":3,"v":0.18},{"x":8,"y":4,"z":4,"v":0.6},{"x":8,"y":4,"z":5,"v":0.44},{"x":8,"y":4,"z":6,"v":0.82},{"x":8,"y":4,"z":7,"v":0.64},{"x":8,"y":4,"z":8,"v":0.26},{"x":8,"y":4,"z":9,"v":0.92},
{"x":8,"y":5,"z":0,"v":0.48},{"x":8,"y":5,"z":1,"v":0.12},{"x":8,"y":5,"z":2,"v":0.7},{"x":8,"y":5,"z":3,"v":0.54},{"x":8,"y":5,"z":4,"v":0.84},{"x":8,"y":5,"z":5,"v":0.04},{"x":8,"y":5,"z":6,"v":0.58},{"x":8,"y":5,"z":7,"v":0.36},{"x":8,"y":5,"z":8,"v":0.7},{"x":8,"y":5,"z":9,"v":0.16},
{"x":8,"y":6,"z":0,"v":0.24},{"x":8,"y":6,"z":1,"v":0.76},{"x":8,"y":6,"z":2,"v":0.56},{"x":8,"y":6,"z":3,"v":0.92},{"x":8,"y":6,"z":4,"v":0.32},{"x":8,"y":6,"z":5,"v":0.62},{"x":8,"y":6,"z":6,"v":0.2},{"x":8,"y":6,"z":7,"v":0.8},{"x":8,"y":6,"z":8,"v":0.44},{"x":8,"y":6,"z":9,"v":0.68},
{"x":8,"y":7,"z":0,"v":0.6},{"x":8,"y":7,"z":1,"v":0.4},{"x":8,"y":7,"z":2,"v":0.1},{"x":8,"y":7,"z":3,"v":0.46},{"x":8,"y":7,"z":4,"v":0.72},{"x":8,"y":7,"z":5,"v":0.86},{"x":8,"y":7,"z":6,"v":0.52},{"x":8,"y":7,"z":7,"v":0.28},{"x":8,"y":7,"z":8,"v":0.96},{"x":8,"y":7,"z":9,"v":0.58},
{"x":8,"y":8,"z":0,"v":0.78},{"x":8,"y":8,"z":1,"v":0.3},{"x":8,"y":8,"z":2,"v":0.66},{"x":8,"y":8,"z":3,"v":0.56},{"x":8,"y":8,"z":4,"v":0.14},{"x":8,"y":8,"z":5,"v":0.9},{"x":8,"y":8,"z":6,"v":0.38},{"x":8,"y":8,"z":7,"v":0.58},{"x":8,"y":8,"z":8,"v":0.74},{"x":8,"y":8,"z":9,"v":0.5},
{"x":8,"y":9,"z":0,"v":0.44},{"x":8,"y":9,"z":1,"v":0.62},{"x":8,"y":9,"z":2,"v":0.82},{"x":8,"y":9,"z":3,"v":0.2},{"x":8,"y":9,"z":4,"v":0.52},{"x":8,"y":9,"z":5,"v":0.34},{"x":8,"y":9,"z":6,"v":0.7},{"x":8,"y":9,"z":7,"v":0.46},{"x":8,"y":9,"z":8,"v":0.82},{"x":8,"y":9,"z":9,"v":0.85},
{"x":9,"y":0,"z":0,"v":0.2},{"x":9,"y":0,"z":1,"v":0.9},{"x":9,"y":0,"z":2,"v":0.92},{"x":9,"y":0,"z":3,"v":0.3},{"x":9,"y":0,"z":4,"v":0.62},{"x":9,"y":0,"z":5,"v":0.1},{"x":9,"y":0,"z":6,"v":0.82},{"x":9,"y":0,"z":7,"v":0.68},{"x":9,"y":0,"z":8,"v":0.45},{"x":9,"y":0,"z":9,"v":0.88},
{"x":9,"y":1,"z":0,"v":0.82},{"x":9,"y":1,"z":1,"v":0.68},{"x":9,"y":1,"z":2,"v":0.95},{"x":9,"y":1,"z":3,"v":0.18},{"x":9,"y":1,"z":4,"v":0.46},{"x":9,"y":1,"z":5,"v":0.74},{"x":9,"y":1,"z":6,"v":0.36},{"x":9,"y":1,"z":7,"v":0.06},{"x":9,"y":1,"z":8,"v":0.6},{"x":9,"y":1,"z":9,"v":0.42},
{"x":9,"y":2,"z":0,"v":0.45},{"x":9,"y":2,"z":1,"v":0.45},{"x":9,"y":2,"z":2,"v":0.4},{"x":9,"y":2,"z":3,"v":0.78},{"x":9,"y":2,"z":4,"v":0.96},{"x":9,"y":2,"z":5,"v":0.24},{"x":9,"y":2,"z":6,"v":0.56},{"x":9,"y":2,"z":7,"v":0.86},{"x":9,"y":2,"z":8,"v":0.14},{"x":9,"y":2,"z":9,"v":0.66},
{"x":9,"y":3,"z":0,"v":0.52},{"x":9,"y":3,"z":1,"v":0.25},{"x":9,"y":3,"z":2,"v":0.88},{"x":9,"y":3,"z":3,"v":0.04},{"x":9,"y":3,"z":4,"v":0.5},{"x":9,"y":3,"z":5,"v":0.7},{"x":9,"y":3,"z":6,"v":0.3},{"x":9,"y":3,"z":7,"v":0.9},{"x":9,"y":3,"z":8,"v":0.58},{"x":9,"y":3,"z":9,"v":0.1},
{"x":9,"y":4,"z":0,"v":0.62},{"x":9,"y":4,"z":1,"v":0.65},{"x":9,"y":4,"z":2,"v":0.65},{"x":9,"y":4,"z":3,"v":0.4},{"x":9,"y":4,"z":4,"v":0.84},{"x":9,"y":4,"z":5,"v":0.16},{"x":9,"y":4,"z":6,"v":0.62},{"x":9,"y":4,"z":7,"v":0.44},{"x":9,"y":4,"z":8,"v":0.76},{"x":9,"y":4,"z":9,"v":0.32},
{"x":9,"y":5,"z":0,"v":0.33},{"x":9,"y":5,"z":1,"v":0.32},{"x":9,"y":5,"z":2,"v":0.38},{"x":9,"y":5,"z":3,"v":0.72},{"x":9,"y":5,"z":4,"v":0.56},{"x":9,"y":5,"z":5,"v":0.92},{"x":9,"y":5,"z":6,"v":0.08},{"x":9,"y":5,"z":7,"v":0.5},{"x":9,"y":5,"z":8,"v":0.68},{"x":9,"y":5,"z":9,"v":0.78},
{"x":9,"y":6,"z":0,"v":0.42},{"x":9,"y":6,"z":1,"v":0.82},{"x":9,"y":6,"z":2,"v":0.55},{"x":9,"y":6,"z":3,"v":0.12},{"x":9,"y":6,"z":4,"v":0.94},{"x":9,"y":6,"z":5,"v":0.52},{"x":9,"y":6,"z":6,"v":0.24},{"x":9,"y":6,"z":7,"v":0.6},{"x":9,"y":6,"z":8,"v":0.2},{"x":9,"y":6,"z":9,"v":0.32},
{"x":9,"y":7,"z":0,"v":0.5},{"x":9,"y":7,"z":1,"v":0.7},{"x":9,"y":7,"z":2,"v":0.6},{"x":9,"y":7,"z":3,"v":0.08},{"x":9,"y":7,"z":4,"v":0.6},{"x":9,"y":7,"z":5,"v":0.95},{"x":9,"y":7,"z":6,"v":0.93},{"x":9,"y":7,"z":7,"v":0.38},{"x":9,"y":7,"z":8,"v":0.5},{"x":9,"y":7,"z":9,"v":0.45},
{"x":9,"y":8,"z":0,"v":0.45},{"x":9,"y":8,"z":1,"v":0.82},{"x":9,"y":8,"z":2,"v":0.28},{"x":9,"y":8,"z":3,"v":0.42},{"x":9,"y":8,"z":4,"v":0.18},{"x":9,"y":8,"z":5,"v":0.75},{"x":9,"y":8,"z":6,"v":0.55},{"x":9,"y":8,"z":7,"v":0.75},{"x":9,"y":8,"z":8,"v":0.3},{"x":9,"y":8,"z":9,"v":0.65},
{"x":9,"y":9,"z":0,"v":0.35},{"x":9,"y":9,"z":1,"v":0.2},{"x":9,"y":9,"z":2,"v":0.85},{"x":9,"y":9,"z":3,"v":0.72},{"x":9,"y":9,"z":4,"v":0.85},{"x":9,"y":9,"z":5,"v":0.58},{"x":9,"y":9,"z":6,"v":0.78},{"x":9,"y":9,"z":7,"v":0.72},{"x":9,"y":9,"z":8,"v":0.32},{"x":9,"y":9,"z":9,"v":0.45}
]},
"transform":[
{"calculate":"datum.x-4.5","as":"a"},{"calculate":"datum.y-4.5","as":"b"},{"calculate":"datum.z-4.5","as":"c"},
{"calculate":"10-(0.05*datum.a-0.08659*datum.b+0.0433*datum.c)","as":"d"},
{"calculate":"248.6+2822*(0.1*datum.a+0.05773*datum.b)/datum.d","as":"px"},
{"calculate":"212.9-2822*(-0.02886*datum.a+0.05*datum.b+0.07499*datum.c)/datum.d","as":"py"}],
"encoding":{
"x":{"field":"px","type":"quantitative","axis":null,"scale":{"domain":[0,650],"nice":false,"zero":false}},
"y":{"field":"py","type":"quantitative","axis":null,"scale":{"domain":[525,0],"nice":false,"zero":false}}},
"layer":[
{"transform":[{"filter":"datum.k=='pane'"}],"mark":{"type":"line","strokeWidth":0,"clip":false},"encoding":{"detail":{"field":"i"},"order":{"field":"o"},"fill":{"condition":[{"test":"datum.i=='l'","value":"#f9f9f9"},{"test":"datum.i=='b'","value":"#f2f2f2"}],"value":"#f5f5f5"}}},
{"transform":[{"filter":"datum.k=='g'"}],"mark":{"type":"line","color":"#b0b0b0","strokeWidth":1.7},"encoding":{"detail":{"field":"i"},"order":{"field":"o"}}},
{"transform":[{"filter":"datum.k=='a'"}],"mark":{"type":"line","color":"black","strokeWidth":1.7},"encoding":{"detail":{"field":"i"},"order":{"field":"o"}}},
{"transform":[{"filter":"isValid(datum.v)"}],"mark":{"type":"circle","size":175,"stroke":null,"opacity":1},"encoding":{"color":{"field":"v","type":"quantitative","scale":{"scheme":"viridis","domain":[0,0.996]},"legend":{"orient":"none","legendX":542,"legendY":90,"title":null,"direction":"vertical","gradientLength":261,"gradientThickness":52,"gradientStrokeColor":"black","gradientStrokeWidth":1.7,"values":[0.2,0.4,0.6,0.8],"format":".1f","labelFontSize":23,"labelFont":"DejaVu Sans","labelColor":"black","labelOffset":18,"padding":0,"labelOverlap":false}},"opacity":{"field":"d","type":"quantitative","legend":null,"scale":{"domain":[9.19,10.81],"range":[0.88,0.32]}},"order":{"field":"d","sort":"descending"}}},
{"transform":[{"filter":"datum.k=='xl'"}],"mark":{"type":"text","dx":-17,"dy":48,"baseline":"middle"},"encoding":{"text":{"field":"t"}}},
{"transform":[{"filter":"datum.k=='yl'"}],"mark":{"type":"text","dx":27,"dy":41,"baseline":"middle"},"encoding":{"text":{"field":"t"}}},
{"transform":[{"filter":"datum.k=='zl'"}],"mark":{"type":"text","dx":42,"dy":3.5,"baseline":"middle"},"encoding":{"text":{"field":"t"}}},
{"transform":[{"filter":"datum.k=='tx'"}],"mark":{"type":"text","angle":18.5,"baseline":"middle"},"encoding":{"text":{"field":"t"}}},
{"transform":[{"filter":"datum.k=='ty'"}],"mark":{"type":"text","angle":-45,"baseline":"middle"},"encoding":{"text":{"field":"t"}}},
{"transform":[{"filter":"datum.k=='c'"}],"mark":{"type":"rule","color":"black","strokeWidth":1.7},"encoding":{"x":{"value":595},"x2":{"value":602},"y":{"field":"cb","type":"quantitative","axis":null,"scale":{"domain":[0,0.996],"range":[350.5,90],"nice":false,"zero":false}}}}
],
"resolve":{"scale":{"y":"independent"}}}
